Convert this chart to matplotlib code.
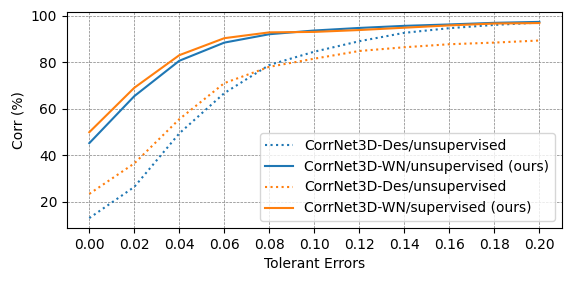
import numpy as np
import matplotlib
matplotlib.use("Agg")
import matplotlib.pyplot as plt

# tolerant errors on the x axis
errors = [0.00, 0.02, 0.04, 0.06, 0.08, 0.10, 0.12, 0.14, 0.16, 0.18, 0.20]

# correspondence accuracy (%)
des_unsup = [13.0, 26.4, 49.4, 66.7, 78.8, 84.5, 89.0, 92.6, 94.6, 96.0, 97.0]
wn_unsup = [45.2, 65.4, 80.6, 88.4, 92.0, 93.6, 94.7, 95.6, 96.2, 96.9, 97.3]
des_sup = [23.4, 36.5, 55.5, 71.0, 78.0, 81.5, 84.8, 86.4, 87.7, 88.4, 89.3]
wn_sup = [49.9, 69.0, 83.0, 90.3, 92.8, 93.0, 93.8, 94.8, 95.8, 96.6, 96.8]

labels = ["CorrNet3D-Des/unsupervised", "CorrNet3D-WN/unsupervised (ours)",
          "CorrNet3D-Des/unsupervised", "CorrNet3D-WN/supervised (ours)"]

fig, ax = plt.subplots(figsize=(5.71, 2.81), dpi=100)
fig.subplots_adjust(left=0.117, right=0.984, top=0.957, bottom=0.189)

ax.plot(errors, des_unsup, color="C0", linestyle=":", linewidth=1.5, label=labels[0])
ax.plot(errors, wn_unsup, color="C0", linestyle="-", linewidth=1.5, label=labels[1])
ax.plot(errors, des_sup, color="C1", linestyle=":", linewidth=1.5, label=labels[2])
ax.plot(errors, wn_sup, color="C1", linestyle="-", linewidth=1.5, label=labels[3])

ax.set_xticks(errors)
ax.grid(True, color="gray", linestyle="--", linewidth=0.5)
ax.set_xlabel("Tolerant Errors")
ax.set_ylabel("Corr (%)")
ax.legend(loc="lower right")

fig.savefig("out.png")
